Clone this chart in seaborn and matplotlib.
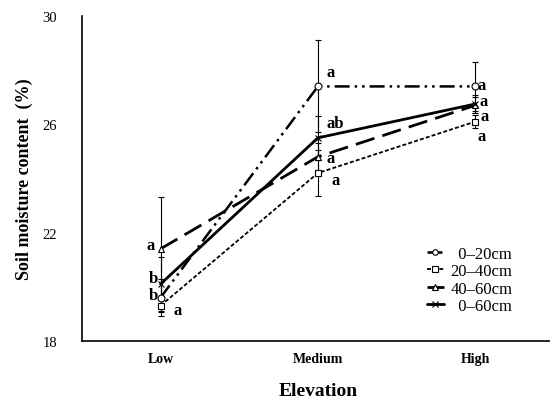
import matplotlib
matplotlib.use("Agg")
from matplotlib import pyplot as plt
import pandas as pd
import seaborn as sns

elevation = ["Low", "Medium", "High"]
depths = ["0\u201320cm", "20\u201340cm", "40\u201360cm", "0\u201360cm"]

moisture_0_20 = [19.6, 27.4, 27.4]
moisture_20_40 = [19.3, 24.2, 26.1]
moisture_40_60 = [21.4, 24.8, 26.7]
moisture_0_60 = [20.1, 25.5, 26.75]

sd_0_20 = [0.7, 1.7, 0.9]
sd_20_40 = [0.25, 0.85, 0.25]
sd_40_60 = [1.9, 0.5, 0.3]
sd_0_60 = [1.0, 0.8, 0.35]

letters_0_20 = ["b", "a", "a"]
letters_20_40 = ["a", "a", "a"]
letters_40_60 = ["a", "a", "a"]
letters_0_60 = ["b", "ab", "a"]

values = [moisture_0_20, moisture_20_40, moisture_40_60, moisture_0_60]
sds = [sd_0_20, sd_20_40, sd_40_60, sd_0_60]
letters = [letters_0_20, letters_20_40, letters_40_60, letters_0_60]

df = pd.DataFrame({
    "Elevation": elevation * 4,
    "Depth": [d for d in depths for _ in elevation],
    "Moisture": [v for vals in values for v in vals],
})

sns.set_style("white")
plt.rcParams["font.family"] = ["Liberation Serif", "DejaVu Serif"]
plt.rcParams["text.color"] = "black"
plt.rcParams["axes.labelcolor"] = "black"
plt.rcParams["xtick.color"] = "black"
plt.rcParams["ytick.color"] = "black"

fig = plt.figure(figsize=(5.5, 4.06), dpi=100)
ax = fig.add_axes([0.149, 0.158, 0.858, 0.8])

styles = {
    depths[0]: dict(dashes=(6, 2, 1, 2, 1, 2), marker="o", lw=1.8),
    depths[1]: dict(dashes=(2.2, 1.2), marker="s", lw=1.3),
    depths[2]: dict(dashes=(7, 3), marker="^", lw=2.0),
    depths[3]: dict(dashes=None, marker="x", lw=2.0),
}

for i, d in enumerate(depths):
    st = styles[d]
    sub = df[df["Depth"] == d]
    xs = [elevation.index(e) for e in sub["Elevation"]]
    ax.errorbar(xs, sub["Moisture"], yerr=sds[i], fmt="none", ecolor="black",
                elinewidth=0.8, capsize=2.5, capthick=0.8, zorder=1)
    # legend labels padded so the short ones line up on the right
    lab = "  " + d if d.startswith("0") else d
    sns.lineplot(x=xs, y=sub["Moisture"].values, ax=ax, color="black", lw=st["lw"],
                 marker=st["marker"], markersize=5, markerfacecolor="white",
                 markeredgecolor="black", markeredgewidth=0.8, label=lab, zorder=3)
    if st["dashes"] is not None:
        ax.get_lines()[-1].set_dashes(st["dashes"])

# significance letters: (dx, dy) in points, alignment
offsets = {
    (0, 0): (-1.5, 2, "right"), (1, 0): (9, -3, "left"), (2, 0): (-4, 3, "right"), (3, 0): (-1.5, 4.5, "right"),
    (0, 1): (6, 10.5, "left"), (1, 1): (10, -5, "left"), (2, 1): (6, -1, "left"), (3, 1): (6, 10.5, "left"),
    (0, 2): (2, 1, "left"), (1, 2): (2, -10, "left"), (2, 2): (4, -7.5, "left"), (3, 2): (3, 2.5, "left"),
}
for i in range(4):
    for j in range(3):
        dx, dy, ha = offsets[(i, j)]
        ax.annotate(letters[i][j], (j, values[i][j]), xytext=(dx, dy),
                    textcoords="offset points", ha=ha, va="center",
                    fontsize=12, fontweight="bold", color="black")

ax.set_xlim(-0.5, 2.5)
ax.set_ylim(18, 30)
ax.set_yticks([18, 22, 26, 30])
ax.set_xticks([0.5, 1.5])
ax.set_xticklabels([])
ax.set_xticks([0, 1, 2], minor=True)
ax.set_xticklabels(elevation, minor=True, fontweight="bold", fontsize=10)
ax.tick_params(axis="x", which="minor", length=0, pad=8)
ax.tick_params(axis="x", which="major", direction="in", length=4, width=1)
ax.tick_params(axis="y", direction="in", length=4, width=1, labelsize=10.5, pad=18)

for s in ["top", "right"]:
    ax.spines[s].set_visible(False)
for s in ["left", "bottom"]:
    ax.spines[s].set_color("black")
    ax.spines[s].set_linewidth(1.2)

ax.set_xlabel("Elevation", fontsize=14, fontweight="bold", labelpad=12)
ax.set_ylabel("Soil moisture content  (%)", fontsize=13, fontweight="bold", labelpad=7)

ax.legend(loc="lower right", bbox_to_anchor=(0.944, 0.037), frameon=False, fontsize=12,
          handlelength=1.0, handletextpad=0.4, labelspacing=0.08, markerscale=0.8)

plt.savefig("out.png", dpi=100)
